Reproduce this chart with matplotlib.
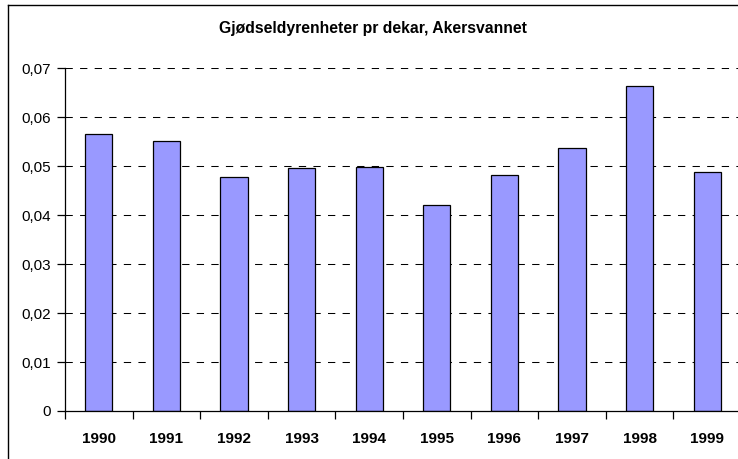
import matplotlib
matplotlib.use("Agg")
import matplotlib.pyplot as plt
from matplotlib.lines import Line2D
from matplotlib.ticker import FuncFormatter

# Data
years = ["1990", "1991", "1992", "1993", "1994", "1995", "1996", "1997", "1998", "1999"]
values = [0.0566, 0.0552, 0.0478, 0.0497, 0.0499, 0.0420, 0.0482, 0.0538, 0.0664, 0.0489]
y_ticks = [0.0, 0.01, 0.02, 0.03, 0.04, 0.05, 0.06, 0.07]
title = "Gjødseldyrenheter pr dekar, Akersvannet"

plt.rcParams['font.family'] = ['Liberation Sans', 'DejaVu Sans']

fig = plt.figure(figsize=(7.38, 4.59), dpi=100)
ax = fig.add_axes([65 / 738, 1 - 411 / 459, 676 / 738, (411 - 68.3) / 459])

# Bars
x = list(range(len(years)))
ax.bar(x, values, width=0.4, color="#9999FF", edgecolor="black", linewidth=0.9, zorder=3)

# Axes limits and ticks
ax.set_xlim(-0.5, len(years) - 0.5)
ax.set_ylim(0, 0.07)
ax.set_yticks(y_ticks)
ax.yaxis.set_major_formatter(FuncFormatter(lambda v, p: "0" if v == 0 else f"{v:.2f}".replace(".", ",")))
ax.tick_params(axis="y", labelsize=11, length=6, width=0.9, pad=4)

# year labels between ticks at category borders
ax.set_xticks([i - 0.5 for i in range(len(years) + 1)])
ax.set_xticklabels([])
ax.set_xticks(x, minor=True)
ax.set_xticklabels(years, minor=True, fontsize=11, fontweight="bold")
ax.tick_params(axis="x", which="major", length=6, width=0.9)
ax.tick_params(axis="x", which="minor", length=0, pad=15)

# Dashed grid
for v in y_ticks[1:]:
    ax.axhline(v, color="black", linewidth=0.75, linestyle=(0, (7, 7)), zorder=1)

for side in ["top", "right"]:
    ax.spines[side].set_visible(False)
for side in ["left", "bottom"]:
    ax.spines[side].set_linewidth(0.9)
    ax.spines[side].set_zorder(4)

# Title
fig.text(373 / 738, 1 - 29 / 459, title, ha="center", va="center", fontsize=11.3, fontweight="bold")

# Outer chart border (right and bottom are cut off in the original)
fig.add_artist(Line2D([8 / 738, 8 / 738], [0, 1 - 5 / 459], color="black", linewidth=1.0, transform=fig.transFigure))
fig.add_artist(Line2D([8 / 738, 1], [1 - 5 / 459, 1 - 5 / 459], color="black", linewidth=1.0, transform=fig.transFigure))

fig.savefig("out.png", dpi=100)
